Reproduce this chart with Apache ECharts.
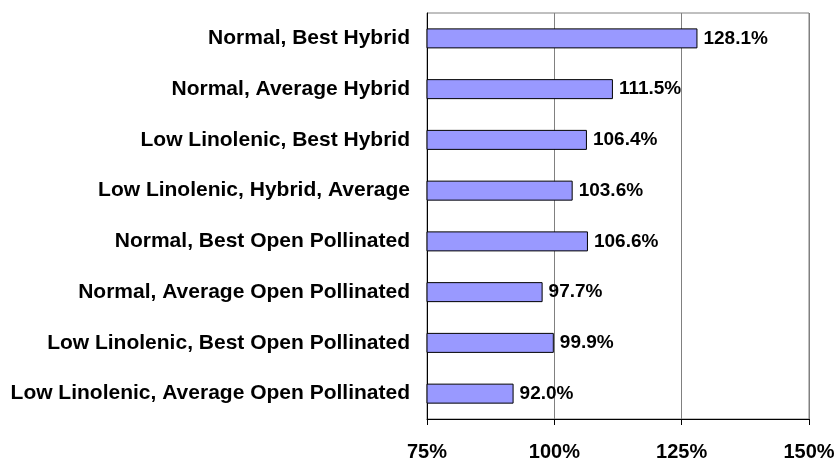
<!DOCTYPE html>
<html>
<head>
<meta charset="utf-8">
<script src="https://cdn.jsdelivr.net/npm/echarts@6/dist/echarts.min.js"></script>
<style>
html,body{margin:0;padding:0;background:#fff;}
#main{width:839px;height:462px;}
</style>
</head>
<body>
<div id="main"></div>
<script>
//类别（从上到下）
var categories = ['Normal, Best Hybrid', 'Normal, Average Hybrid', 'Low Linolenic, Best Hybrid',
	'Low Linolenic, Hybrid, Average', 'Normal, Best Open Pollinated', 'Normal, Average Open Pollinated',
	'Low Linolenic, Best Open Pollinated', 'Low Linolenic, Average Open Pollinated'];
//数值（%）
var values = [128.1, 111.5, 106.4, 103.6, 106.6, 97.7, 99.9, 92.0];
//横轴刻度
var xTicks = [75, 100, 125, 150];

var font = '"Liberation Sans", Arial, sans-serif';
var chart = echarts.init(document.getElementById('main'));
var option = {
	backgroundColor: '#fff',
	animation: false,
	grid: {
		left: 427,
		right: 30,
		top: 13,
		bottom: 42,
		show: true,
		borderColor: '#808080',
		borderWidth: 1
	},
	xAxis: {
		type: 'value',
		min: xTicks[0],
		max: xTicks[xTicks.length - 1],
		interval: xTicks[1] - xTicks[0],
		axisLine: {show: true, lineStyle: {color: '#000', width: 1}},
		axisTick: {show: true, length: 6, lineStyle: {color: '#000'}},
		splitLine: {show: true, lineStyle: {color: '#808080', width: 1}},
		axisLabel: {
			margin: 23,
			color: '#000',
			fontFamily: font,
			fontWeight: 'bold',
			fontSize: 20,
			formatter: '{value}%'
		}
	},
	yAxis: {
		type: 'category',
		inverse: true,
		data: categories,
		axisLine: {show: true, lineStyle: {color: '#000', width: 1}},
		axisTick: {show: false},
		axisLabel: {
			margin: 17,
			color: '#000',
			fontFamily: font,
			fontWeight: 'bold',
			fontSize: 21
		}
	},
	series: [{
		type: 'bar',
		data: values,
		barWidth: 20,
		itemStyle: {color: '#9999ff', borderColor: '#000', borderWidth: 1},
		label: {
			show: true,
			position: 'right',
			distance: 6,
			color: '#000',
			fontFamily: font,
			fontWeight: 'bold',
			fontSize: 19,
			formatter: function (p) { return p.value.toFixed(1) + '%'; }
		}
	}]
};
chart.setOption(option);
</script>
</body>
</html>
